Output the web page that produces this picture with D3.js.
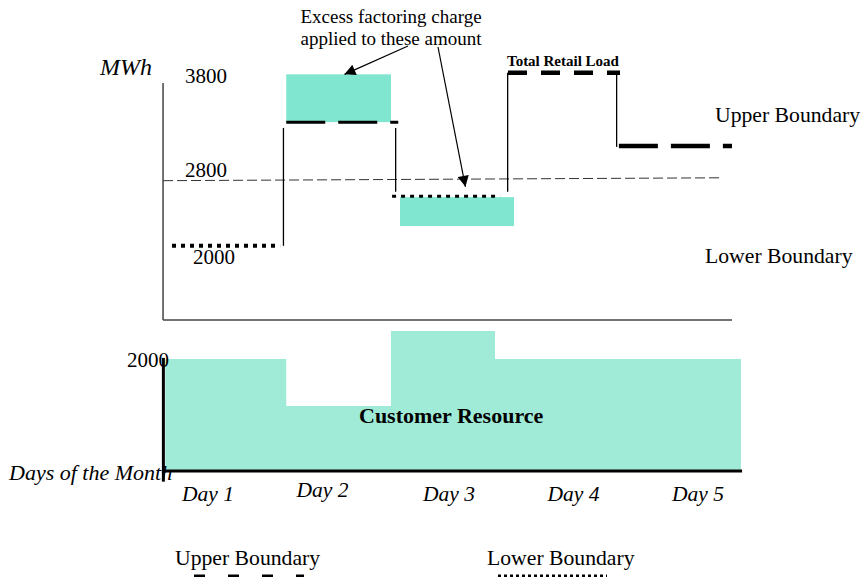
<!DOCTYPE html>
<html><head><meta charset="utf-8">
<script src="https://cdn.jsdelivr.net/npm/d3@7"></script>
<style>html,body{margin:0;padding:0;background:#fff;}svg{display:block;font-family:"Liberation Serif","Times New Roman",serif;}</style>
</head><body>
<svg id="c" width="864" height="577"></svg>
<script>
// ---- data (days in day units, values in MWh) ----
const days = ["Day 1", "Day 2", "Day 3", "Day 4", "Day 5"];
const yTickValues = [3800, 2800, 2000];
const resourceTickValues = [2000];
const lowerBoundary = [
  {from: 0.0, to: 0.965, mwh: 2000},
  {from: 1.965, to: 2.93, mwh: 2600}
];
const upperBoundary = [
  {from: 1.02, to: 2.02, mwh: 3500},
  {from: 3.99, to: 5.0, mwh: 3210}
];
const totalRetailLoad = [
  {from: 3.0, to: 4.0, mwh: 4100}
];
const loadSteps = [
  {day: 0.995, from: 3430, to: 2000},
  {day: 1.997, from: 3430, to: 2655},
  {day: 2.997, from: 4100, to: 2655},
  {day: 3.97, from: 4100, to: 3200}
];
const excessAmounts = [
  {from: 1.02, to: 1.955, low: 3500, high: 4080},
  {from: 2.036, to: 3.054, low: 2240, high: 2590}
];
const referenceLine = {from: -0.08, to: 4.89, start: 2790, end: 2825};
const customerResource = [
  {from: -0.06, to: 1.02, mwh: 2000},
  {from: 1.02, to: 1.955, mwh: 1160},
  {from: 1.955, to: 2.884, mwh: 2500},
  {from: 2.884, to: 5.08, mwh: 2000}
];

// ---- scales ----
const svg = d3.select("#c");
const x = d3.scaleLinear().domain([0, 5]).range([172, 732]);
const y = d3.scaleLinear().domain([1100, 3975]).range([320, 83]);
const yB = d3.scaleLinear().domain([0, 2000]).range([471, 359]);
const xDay = d3.scalePoint().domain(days).range([208, 698]);
const dayNudge = [0, -8, -4, -2, 0];

const topFill = "#80e6cf", botFill = "#a0ebd7";

// markers
svg.append("defs").append("marker")
  .attr("id", "arr").attr("viewBox", "0 0 10 10").attr("refX", 10).attr("refY", 5)
  .attr("markerWidth", 13).attr("markerHeight", 11).attr("markerUnits", "userSpaceOnUse")
  .attr("orient", "auto")
  .append("path").attr("d", "M0,0 L10,5 L0,10 z").attr("fill", "#000");

// ---- bottom panel: customer resource ----
const area = d3.area().curve(d3.curveStepAfter)
  .x(d => x(d.day)).y0(yB(0)).y1(d => yB(d.mwh));
const areaPts = customerResource.map(d => ({day: d.from, mwh: d.mwh}));
areaPts.push({day: customerResource[customerResource.length - 1].to, mwh: customerResource[customerResource.length - 1].mwh});
svg.append("path").datum(areaPts).attr("d", area).attr("fill", botFill);

svg.append("line").attr("x1", x(-0.077)).attr("x2", x(-0.077)).attr("y1", yB(2020)).attr("y2", yB(-190))
  .attr("stroke", "#000").attr("stroke-width", 3);
svg.append("line").attr("x1", x(-0.09)).attr("x2", x(5.09)).attr("y1", yB(0)).attr("y2", yB(0))
  .attr("stroke", "#000").attr("stroke-width", 3);

svg.selectAll(".rtick").data(resourceTickValues).enter().append("text")
  .attr("x", 127).attr("y", d => yB(d) + 8).attr("font-size", 21).text(d => d);

svg.append("text").attr("x", 359).attr("y", 423).attr("font-size", 22).attr("font-weight", "bold")
  .text("Customer Resource");
svg.append("text").attr("x", 9).attr("y", 480).attr("font-size", 22).attr("font-style", "italic")
  .text("Days of the Month");
svg.selectAll(".day").data(days).enter().append("text")
  .attr("x", (d, i) => xDay(d) + dayNudge[i]).attr("y", (d, i) => i === 1 ? 497 : 501)
  .attr("text-anchor", "middle").attr("font-size", 21.5).attr("font-style", "italic").text(d => d);

// ---- top panel ----
svg.selectAll(".ex").data(excessAmounts).enter().append("rect")
  .attr("x", d => x(d.from)).attr("width", d => x(d.to) - x(d.from))
  .attr("y", d => y(d.high)).attr("height", d => y(d.low) - y(d.high))
  .attr("fill", topFill);

svg.append("line").attr("x1", x(-0.08)).attr("x2", x(-0.08)).attr("y1", y(3975)).attr("y2", y(1100))
  .attr("stroke", "#444").attr("stroke-width", 1.5);
svg.append("line").attr("x1", x(-0.08)).attr("x2", x(5)).attr("y1", y(1100)).attr("y2", y(1100))
  .attr("stroke", "#444").attr("stroke-width", 1.5);

svg.append("line").attr("x1", x(referenceLine.from)).attr("x2", x(referenceLine.to))
  .attr("y1", y(referenceLine.start)).attr("y2", y(referenceLine.end))
  .attr("stroke", "#333").attr("stroke-width", 1).attr("stroke-dasharray", "10,4");

const tickDx = {3800: 185, 2800: 185, 2000: 193};
const tickDy = {3800: -14, 2800: -3, 2000: 18};
svg.selectAll(".ytick").data(yTickValues).enter().append("text")
  .attr("x", d => tickDx[d]).attr("y", d => y(d) + tickDy[d]).attr("font-size", 21).text(d => d);

svg.append("text").attr("x", 100).attr("y", 75).attr("font-size", 24).attr("font-style", "italic").text("MWh");

svg.selectAll(".step").data(loadSteps).enter().append("line")
  .attr("x1", d => x(d.day)).attr("x2", d => x(d.day))
  .attr("y1", d => y(d.from)).attr("y2", d => y(d.to))
  .attr("stroke", "#000").attr("stroke-width", 1.3);

svg.selectAll(".lb").data(lowerBoundary).enter().append("line")
  .attr("x1", d => x(d.from)).attr("x2", d => x(d.to))
  .attr("y1", d => y(d.mwh)).attr("y2", d => y(d.mwh))
  .attr("stroke", "#000").attr("stroke-width", (d, i) => i === 0 ? 4 : 3).attr("stroke-dasharray", "4,5");

svg.selectAll(".ub").data(upperBoundary).enter().append("line")
  .attr("x1", d => x(d.from)).attr("x2", d => x(d.to))
  .attr("y1", d => y(d.mwh)).attr("y2", d => y(d.mwh))
  .attr("stroke", "#000").attr("stroke-width", (d, i) => i === 0 ? 3 : 4.5).attr("stroke-dasharray", "39,13");

svg.selectAll(".trl").data(totalRetailLoad).enter().append("line")
  .attr("x1", d => x(d.from)).attr("x2", d => x(d.to))
  .attr("y1", d => y(d.mwh)).attr("y2", d => y(d.mwh))
  .attr("stroke", "#000").attr("stroke-width", 4.5).attr("stroke-dasharray", "19,14");
svg.append("text").attr("x", x(totalRetailLoad[0].from) - 1).attr("y", 66)
  .attr("font-size", 15).attr("font-weight", "bold").text("Total Retail Load");

svg.append("text").attr("x", 715).attr("y", 122).attr("font-size", 21.7).text("Upper Boundary");
svg.append("text").attr("x", 705).attr("y", 263).attr("font-size", 21.7).text("Lower Boundary");

const ann = svg.append("text").attr("text-anchor", "middle").attr("font-size", 19);
ann.append("tspan").attr("x", 391).attr("y", 23).text("Excess factoring charge");
ann.append("tspan").attr("x", 391).attr("y", 45).text("applied to these amount");
svg.append("line").attr("x1", 408).attr("y1", 46).attr("x2", x(1.54)).attr("y2", y(4080))
  .attr("stroke", "#000").attr("stroke-width", 1.2).attr("marker-end", "url(#arr)");
svg.append("line").attr("x1", 438).attr("y1", 47).attr("x2", x(2.62)).attr("y2", y(2715))
  .attr("stroke", "#000").attr("stroke-width", 1.2).attr("marker-end", "url(#arr)");

// ---- legend ----
svg.append("text").attr("x", 175).attr("y", 565).attr("font-size", 21.7).text("Upper Boundary");
svg.append("line").attr("x1", 194).attr("x2", 304).attr("y1", 576).attr("y2", 576)
  .attr("stroke", "#000").attr("stroke-width", 3).attr("stroke-dasharray", "11,23");
svg.append("text").attr("x", 487).attr("y", 565).attr("font-size", 21.7).text("Lower Boundary");
svg.append("line").attr("x1", 498).attr("x2", 607).attr("y1", 576).attr("y2", 576)
  .attr("stroke", "#000").attr("stroke-width", 3).attr("stroke-dasharray", "3,3");
</script>
</body></html>
